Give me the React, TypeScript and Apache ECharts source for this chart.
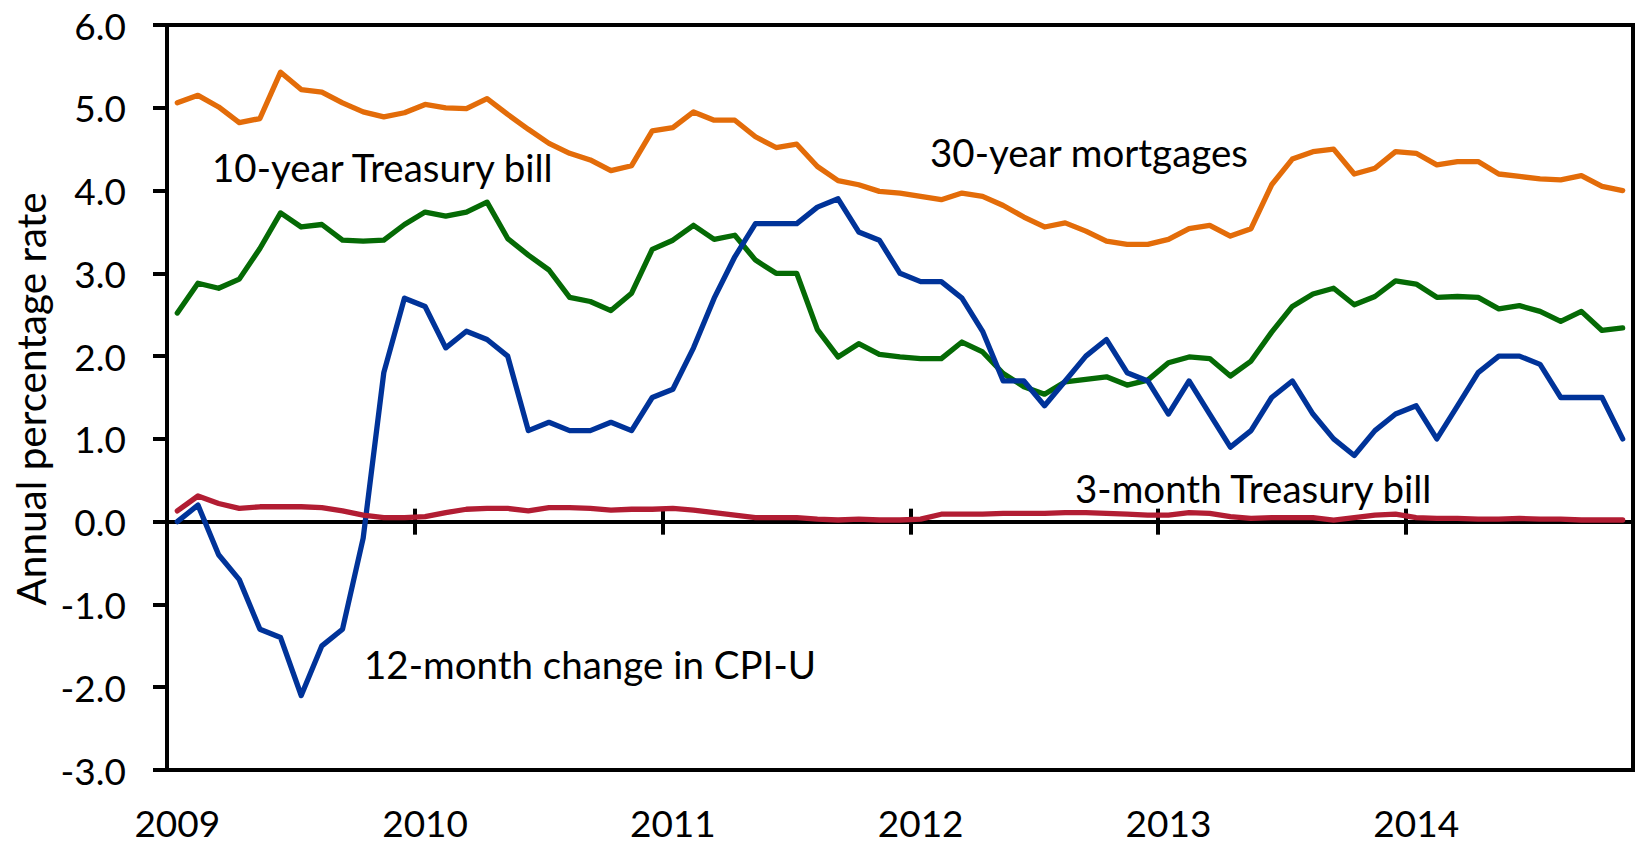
import React, { useEffect, useRef } from 'react';
import * as echarts from 'echarts';

// ---- Data ----
const years = ['2009', '2010', '2011', '2012', '2013', '2014'];
const monthNames = ['Jan', 'Feb', 'Mar', 'Apr', 'May', 'Jun', 'Jul', 'Aug', 'Sep', 'Oct', 'Nov', 'Dec'];
const monthCount = 71; // Jan 2009 .. Nov 2014

const mortgage30 = [
  5.06, 5.15, 5.01, 4.82, 4.87, 5.43, 5.22, 5.19, 5.06, 4.95, 4.89, 4.94,
  5.04, 5.0, 4.99, 5.11, 4.92, 4.74, 4.57, 4.45, 4.37, 4.24, 4.3, 4.72,
  4.76, 4.95, 4.85, 4.85, 4.65, 4.52, 4.56, 4.29, 4.12, 4.07, 3.99, 3.97,
  3.93, 3.89, 3.97, 3.93, 3.82, 3.68, 3.56, 3.61, 3.51, 3.39, 3.35, 3.35,
  3.41, 3.54, 3.58, 3.45, 3.54, 4.07, 4.38, 4.47, 4.5, 4.2, 4.27, 4.47,
  4.45, 4.31, 4.35, 4.35, 4.2, 4.17, 4.14, 4.13, 4.18, 4.05, 4.0,
];

const treasury10 = [
  2.52, 2.88, 2.82, 2.93, 3.3, 3.73, 3.56, 3.59, 3.4, 3.39, 3.4, 3.59,
  3.74, 3.69, 3.74, 3.86, 3.42, 3.22, 3.04, 2.71, 2.66, 2.55, 2.76, 3.29,
  3.4, 3.58, 3.41, 3.46, 3.16, 3.0, 3.0, 2.32, 1.99, 2.15, 2.02, 1.99,
  1.97, 1.97, 2.17, 2.05, 1.79, 1.63, 1.54, 1.69, 1.72, 1.75, 1.65, 1.71,
  1.92, 1.99, 1.97, 1.76, 1.94, 2.29, 2.6, 2.75, 2.82, 2.62, 2.72, 2.91,
  2.87, 2.71, 2.72, 2.71, 2.57, 2.61, 2.54, 2.42, 2.54, 2.31, 2.34,
];

const cpiChange = [
  0.0, 0.2, -0.4, -0.7, -1.3, -1.4, -2.1, -1.5, -1.3, -0.2, 1.8, 2.7,
  2.6, 2.1, 2.3, 2.2, 2.0, 1.1, 1.2, 1.1, 1.1, 1.2, 1.1, 1.5,
  1.6, 2.1, 2.7, 3.2, 3.6, 3.6, 3.6, 3.8, 3.9, 3.5, 3.4, 3.0,
  2.9, 2.9, 2.7, 2.3, 1.7, 1.7, 1.4, 1.7, 2.0, 2.2, 1.8, 1.7,
  1.3, 1.7, 1.3, 0.9, 1.1, 1.5, 1.7, 1.3, 1.0, 0.8, 1.1, 1.3,
  1.4, 1.0, 1.4, 1.8, 2.0, 2.0, 1.9, 1.5, 1.5, 1.5, 1.0,
];

const tbill3 = [
  0.13, 0.31, 0.22, 0.16, 0.18, 0.18, 0.18, 0.17, 0.13, 0.08, 0.05, 0.05,
  0.06, 0.11, 0.15, 0.16, 0.16, 0.13, 0.17, 0.17, 0.16, 0.14, 0.15, 0.15,
  0.16, 0.14, 0.11, 0.08, 0.05, 0.05, 0.05, 0.03, 0.02, 0.03, 0.02, 0.02,
  0.03, 0.09, 0.09, 0.09, 0.1, 0.1, 0.1, 0.11, 0.11, 0.1, 0.09, 0.08,
  0.08, 0.11, 0.1, 0.06, 0.04, 0.05, 0.05, 0.05, 0.02, 0.05, 0.08, 0.09,
  0.05, 0.04, 0.04, 0.03, 0.03, 0.04, 0.03, 0.03, 0.02, 0.02, 0.02,
];

const seriesNames = ['30-year mortgages', '10-year Treasury bill', '12-month change in CPI-U', '3-month Treasury bill'];
const seriesColors = ['#E36C09', '#056A05', '#003399', '#B21D33'];
const yAxisTitle = 'Annual percentage rate';

const categories = years.flatMap((y) => monthNames.map((m) => `${m} ${y}`)).slice(0, monthCount);

const FONT = 'Lato, "Open Sans", sans-serif';
const FS = 37; // tick labels
const FS_NOTE = 38.5; // in-plot labels
const FS_TITLE = 40.5; // axis title

export default function App() {
  const ref = useRef<HTMLDivElement>(null);

  useEffect(() => {
    if (!ref.current) return;
    const chart = echarts.init(ref.current, undefined, { renderer: 'svg' });

    const gridLeft = 167;
    const gridTop = 25;
    const gridW = 1466;
    const gridH = 745;

    const tickStyle = { color: '#000', width: 4 };

    const note = (text: string, x: number, y: number) => ({
      type: 'text',
      x,
      y,
      style: { text, font: `${FS_NOTE}px ${FONT}`, fill: '#000', align: 'left', verticalAlign: 'middle' },
    });

    const option: any = {
      animation: false,
      backgroundColor: '#fff',
      grid: {
        left: gridLeft,
        top: gridTop,
        width: gridW,
        height: gridH,
        show: true,
        borderColor: '#000',
        borderWidth: 4,
        backgroundColor: 'transparent',
        containLabel: false,
        outerBoundsMode: 'none',
      },
      xAxis: [
        {
          type: 'category',
          data: categories,
          boundaryGap: true,
          position: 'bottom',
          axisLine: { show: false, onZero: false },
          axisTick: { show: false },
          splitLine: { show: false },
          axisLabel: {
            interval: 11,
            formatter: (v: string) => v.split(' ')[1],
            fontSize: FS,
            fontFamily: FONT,
            color: '#000',
            verticalAlign: 'middle',
            lineHeight: 34,
            margin: 52,
          },
        },
        {
          type: 'category',
          data: categories,
          boundaryGap: true,
          position: 'bottom',
          axisLine: { show: true, onZero: true, onZeroAxisIndex: 0, lineStyle: { color: '#000', width: 4 } },
          axisTick: { show: true, interval: 11, length: 13, lineStyle: tickStyle },
          axisLabel: { show: false },
          splitLine: { show: false },
        },
        {
          type: 'category',
          data: categories,
          boundaryGap: true,
          position: 'bottom',
          axisLine: { show: true, onZero: true, onZeroAxisIndex: 0, lineStyle: { color: '#000', width: 4 } },
          axisTick: { show: true, inside: true, interval: 11, length: 13, lineStyle: tickStyle },
          axisLabel: { show: false },
          splitLine: { show: false },
        },
      ],
      yAxis: {
        type: 'value',
        min: -3,
        max: 6,
        interval: 1,
        axisLine: { show: true, onZero: false, lineStyle: { color: '#000', width: 4 } },
        axisTick: { show: true, length: 14, lineStyle: tickStyle },
        splitLine: { show: false },
        axisLabel: {
          formatter: (v: number) => v.toFixed(1),
          fontSize: FS,
          fontFamily: FONT,
          color: '#000',
          margin: 41,
        },
      },
      series: [mortgage30, treasury10, cpiChange, tbill3].map((d, i) => ({
        name: seriesNames[i],
        type: 'line',
        xAxisIndex: 0,
        yAxisIndex: 0,
        data: d,
        showSymbol: false,
        symbol: 'none',
        silent: true,
        lineStyle: { color: seriesColors[i], width: 5.3, join: 'round', cap: 'round' },
        itemStyle: { color: seriesColors[i] },
        emphasis: { disabled: true },
      })),
      graphic: [
        {
          type: 'text',
          x: 30,
          y: 399,
          rotation: Math.PI / 2,
          style: { text: yAxisTitle, font: `${FS_TITLE}px ${FONT}`, fill: '#000', align: 'center', verticalAlign: 'middle' },
        },
        note(seriesNames[1], 212, 167),
        note(seriesNames[0], 930, 152),
        note(seriesNames[3], 1075, 488),
        note(seriesNames[2], 364, 664),
      ],
    };

    chart.setOption(option);
    return () => chart.dispose();
  }, []);

  return (
    <div
      ref={ref}
      style={{ position: 'fixed', left: 0, top: 0, width: 1638, height: 843, background: '#fff' }}
    />
  );
}
